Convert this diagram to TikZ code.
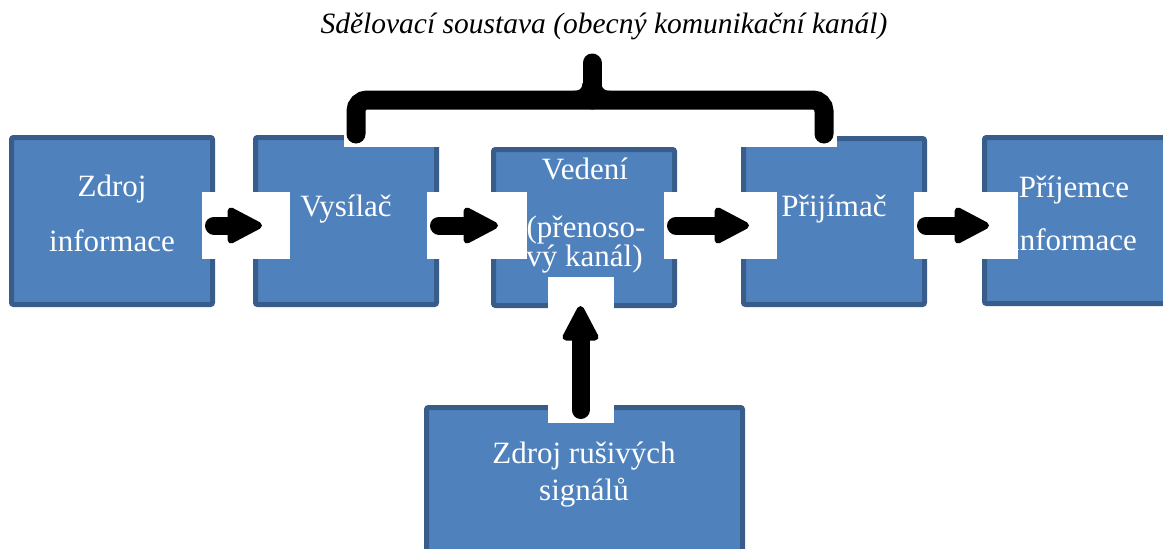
\documentclass[tikz,border=0pt]{standalone}
\usepackage{fontspec}
\setmainfont{LiberationSerif}[Extension=.ttf, UprightFont=*-Regular, ItalicFont=*-Italic, BoldFont=*-Bold, BoldItalicFont=*-BoldItalic]
\usetikzlibrary{calc}
\definecolor{boxfill}{HTML}{4F81BD}
\definecolor{boxline}{HTML}{385D8A}
\tikzset{
  block/.style={draw=boxline, fill=boxfill, line width=5pt, rounded corners=2pt, inner sep=0pt},
  cover/.style={fill=white, inner sep=0pt, outer sep=0pt},
  btext/.style={text=white, font=\fontsize{31}{31}\selectfont, anchor=base, inner sep=0pt},
  arrowshaft/.style={line width=18pt, line cap=round},
  arrowhead/.style={fill=black, draw=black, line width=7pt, line join=round},
  bracestroke/.style={line width=19pt, line cap=round, rounded corners=11pt},
  title/.style={anchor=base, inner sep=0pt, font=\itshape\fontsize{29.5}{30}\selectfont}
}
% thick arrow from #1 (start) to #2 (tip)
\newcommand\fatarrow[2]{%
  \coordinate (hb) at ($(#2)!31pt!(#1)$);
  \draw[arrowshaft] (#1) -- (hb);
  \filldraw[arrowhead] ($(#2)!3.5pt!(#1)$)
    -- ($(hb)!14.5pt!90:(#2)$)
    -- ($(hb)!14.5pt!-90:(#2)$) -- cycle;
}
\begin{document}
\begin{tikzpicture}[x=1pt, y=-1pt]
\useasboundingbox (0,0) rectangle (1163,549);
\clip (0,0) rectangle (1163,549);

% blocks
\node[block, minimum width=201pt, minimum height=167pt] (src) at (112,221) {};
\node[block, minimum width=181pt, minimum height=167pt] (tx)  at (346,221) {};
\node[block, minimum width=181pt, minimum height=156pt] (ch)  at (584,227.5) {};
\node[block, minimum width=181pt, minimum height=166pt] (rx)  at (834,221.5) {};
\node[block, minimum width=201pt, minimum height=166pt] (dst) at (1085,220.5) {};
\node[block, minimum width=316pt, minimum height=165pt] (ns)  at (584.5,490) {};

% block texts
\node[btext] (srcA) at (112,196) {Zdroj};
\node[btext] (srcB) at (112,251) {informace};
\node[btext] (txA)  at (346,216) {Vysílač};
\node[btext] (chA)  at (585,179) {Vedení};
\node[btext] (chB)  at (586,237) {(přenoso-};
\node[btext] (chC)  at (584.5,266) {vý kanál)};
\node[btext] (rxA)  at (834,216) {Přijímač};
\node[btext] (dstA) at (1074,197) {Příjemce};
\node[btext] (dstB) at (1074,250) {informace};
\node[btext] (nsA)  at (584,463) {Zdroj rušivých};
\node[btext] (nsB)  at (584,500) {signálů};

% white frames behind the arrows and the brace
\node[cover, minimum width=88pt,  minimum height=67pt]  (w1) at (246,225.5) {};
\node[cover, minimum width=100pt, minimum height=67pt]  (w2) at (477,225.5) {};
\node[cover, minimum width=113pt, minimum height=67pt]  (w3) at (720.5,225.5) {};
\node[cover, minimum width=104pt, minimum height=67pt]  (w4) at (966,225.5) {};
\node[cover, minimum width=66pt,  minimum height=146pt] (wv) at (581,350) {};
\node[cover, minimum width=493pt, minimum height=99pt]  (wb) at (590.5,97.5) {};

% arrow end points
\coordinate (a1s) at (214,225.5);  \coordinate (a1t) at (262,225.5);
\coordinate (a2s) at (439,225.5);  \coordinate (a2t) at (498,225.5);
\coordinate (a3s) at (676,225.5);  \coordinate (a3t) at (749,225.5);
\coordinate (a4s) at (926,225.5);  \coordinate (a4t) at (989,225.5);
\coordinate (vs)  at (580.5,410);  \coordinate (vt)  at (580.5,306);

\fatarrow{a1s}{a1t}
\fatarrow{a2s}{a2t}
\fatarrow{a3s}{a3t}
\fatarrow{a4s}{a4t}
\fatarrow{vs}{vt}

% brace over the communication channel
\coordinate (bl) at (356,134);
\coordinate (br) at (824,134);
\coordinate (bm) at (592,100);
\coordinate (bt) at (592,63);
\draw[bracestroke] (bl) |- (bm) -| (br);
\draw[bracestroke] (bm) -- (bt);
% small flare where the spike meets the bar
\fill (573,91) .. controls (579,91) and (582.5,89) .. (582.5,83)
  -- (601.5,83) .. controls (601.5,89) and (605,91) .. (611,91) -- cycle;

\node[title] (ttl) at (604,33) {Sdělovací soustava (obecný komunikační kanál)};
\end{tikzpicture}
\end{document}
